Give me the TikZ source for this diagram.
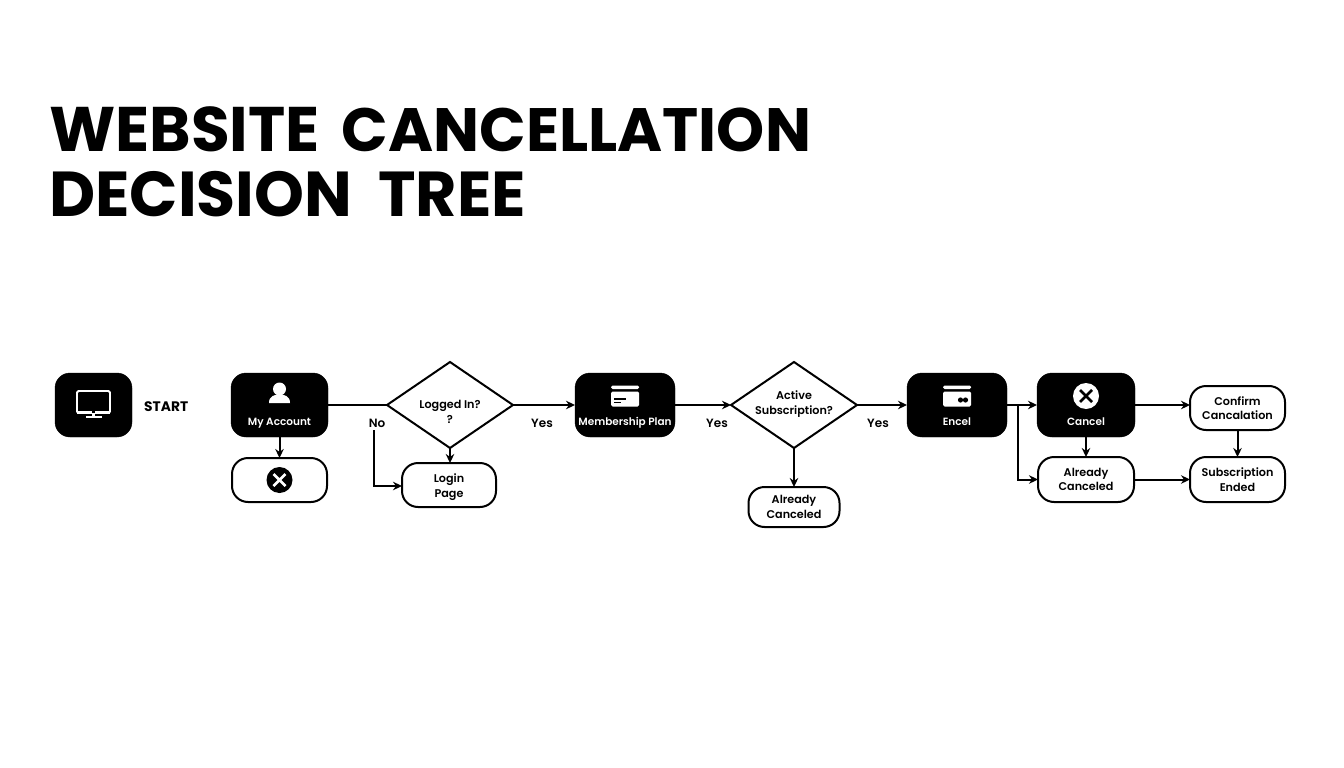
\documentclass[tikz,border=0pt]{standalone}
\usepackage{fontspec}
\setmainfont{Poppins}[UprightFont=* SemiBold,BoldFont=* Bold]
\usetikzlibrary{positioning,calc,shapes.geometric,arrows.meta}
\tikzset{
  flow/.style={-{Stealth[length=9pt,width=8.5pt]}, draw, black, line width=2pt},
  plainflow/.style={draw, black, line width=2pt},
  darkbox/.style={rectangle,rounded corners=15pt,fill=black,draw=black,outer sep=0pt,minimum height=64pt},
  whitebox/.style={rectangle,rounded corners=16pt,fill=white,draw=black,line width=2pt,outer sep=0pt,minimum height=44pt,text depth=0pt},
  decision/.style={diamond,draw=black,line width=2pt,fill=white,outer sep=0pt,inner sep=0pt,minimum width=126pt,minimum height=86pt},
  boxtext/.style={font=\fontsize{11.2}{14.5}\selectfont,align=center,text=black,inner sep=0pt},
  edgetext/.style={font=\fontsize{12}{14}\selectfont,text=black,inner sep=0pt},
  darktext/.style={font=\fontsize{10.5}{13}\selectfont,text=white,inner sep=0pt,text height=8pt,text depth=2.5pt},
  monitor icon/.pic={
    \draw[white,line width=1.8pt,rounded corners=1.5pt] (-16.5,11) rectangle (16.5,-11);
    \fill[white] (-16.5,-8.5) rectangle (16.5,-11.5);
    \fill[black] (-1.2,-10.6) rectangle (1.2,-9);
    \fill[white] (-1.5,-11.5) rectangle (1.5,-14);
    \fill[white] (-8,-14) rectangle (8,-16);
  },
  person icon/.pic={
    \fill[white] (0,7) circle (6.5);
    \fill[white] (-10.5,-7) -- (10.5,-7) .. controls (10.5,0) and (5,1.5) .. (0,1.5) .. controls (-5,1.5) and (-10.5,0) .. (-10.5,-7) -- cycle;
  },
  card icon/.pic={
    \fill[white,rounded corners=1.5pt] (-14,10.5) rectangle (14,7);
    \fill[white,rounded corners=1.5pt] (-14,4.5) rectangle (14,-10.5);
  },
  cross icon/.pic={
    \fill[#1] (0,0) circle (13);
  },
}
\begin{document}
\begin{tikzpicture}[x=1pt,y=1pt]
  \useasboundingbox[fill=white] (0,0) rectangle (1344,-768);

  \node[anchor=north west,align=left,inner sep=0pt,font=\fontsize{63}{65}\selectfont\bfseries] (title) at (49,-106.5) {\spaceskip=22pt WEBSITE {\fontsize{61.2}{65}\selectfont CANCELLATION}\\\fontsize{63.5}{65}\selectfont\spaceskip=26pt DECISION TREE};

  % top row
  \node[darkbox,minimum width=77pt] (startbox) at (93.5,-405) {};
  \node[anchor=west,inner sep=0pt,font=\fontsize{13.8}{16}\selectfont\bfseries] (starttext) at (144,-407) {START};
  \node[darkbox,minimum width=97pt,right=99pt of startbox] (account) {};
  \node[decision,right=59pt of account] (logged) {};
  \node[darkbox,minimum width=100pt,right=62pt of logged] (plan) {};
  \node[decision,right=56pt of plan] (active) {};
  \node[darkbox,minimum width=100pt,right=50pt of active] (encel) {};
  \node[darkbox,minimum width=98pt,right=30pt of encel] (cancel) {};

  % lower boxes
  \node[whitebox,minimum width=95pt,below=21pt of account] (crossbox) {};
  \node[whitebox,minimum width=94pt,below=15pt of logged,xshift=-1pt] (login) {};
  \node[whitebox,minimum width=91pt,minimum height=40pt,below=39pt of active] (canceled) {};
  \node[whitebox,minimum width=96pt,minimum height=45pt,below=20pt of cancel] (canceledb) {};
  \node[whitebox,minimum width=95pt,minimum height=45pt,right=56pt of canceledb] (ended) {};
  \node[whitebox,minimum width=95pt,above=27pt of ended] (confirm) {};

  % texts
  \node[darktext] (accounttext) at ([yshift=-17.5pt]account.center) {My Account};
  \node[darktext] (plantext) at ([yshift=-17.5pt]plan.center) {Membership Plan};
  \node[darktext] (enceltext) at ([yshift=-17.5pt]encel.center) {Encel};
  \node[darktext] (canceltext) at ([yshift=-17.5pt]cancel.center) {Cancel};
  \node[boxtext] (loggedtext) at ([yshift=-7pt]logged.center) {Logged In?\\?};
  \node[boxtext] (activetext) at ([yshift=1pt]active.center) {Active\\Subscription?};
  \node[boxtext] (logintext) at ([yshift=-2pt]login.center) {Login\\Page};
  \node[boxtext] (canceledtext) at (canceled.center) {Already\\Canceled};
  \node[boxtext] (canceledbtext) at (canceledb.center) {Already\\Canceled};
  \node[boxtext] (confirmtext) at (confirm.center) {Confirm\\Cancalation};
  \node[boxtext] (endedtext) at (ended.center) {Subscription\\Ended};

  \node[edgetext] (no) at (377,-423) {No};
  \node[edgetext] (yesa) at (542,-423) {Yes};
  \node[edgetext] (yesb) at (717,-423) {Yes};
  \node[edgetext] (yesc) at (878,-423) {Yes};

  % icons
  \pic at ([yshift=3pt]startbox.center) {monitor icon};
  \pic at ([yshift=9pt]account.center) {person icon};
  \pic at ([yshift=9pt]plan.center) {card icon};
  \pic at ([yshift=9pt]encel.center) {card icon};
  \fill[black] (plan.center) ++(-11,7) rectangle ++(12,-1.6);
  \fill[black] (plan.center) ++(-11,3.5) rectangle ++(7,-1.6);
  \fill[black] (encel.center) ++(3.5,5) circle (2.6) ++(5,0) circle (2.6);
  \pic at ([yshift=9pt]cancel.center) {cross icon=white};
  \draw[line width=2.5pt,black] ([shift={(-6,3)}]cancel.center) -- ([shift={(6,15)}]cancel.center) ([shift={(-6,15)}]cancel.center) -- ([shift={(6,3)}]cancel.center);
  \pic at (crossbox.center) {cross icon=black};
  \draw[line width=2.5pt,white] ([shift={(-6,-6)}]crossbox.center) -- ([shift={(6,6)}]crossbox.center) ([shift={(-6,6)}]crossbox.center) -- ([shift={(6,-6)}]crossbox.center);

  % connectors
  \draw[plainflow] (account) -- (logged);
  \draw[flow] (account) -- (crossbox);
  \draw[flow] (logged) -- (plan);
  \draw[flow] (logged.south) -- (login.north -| logged.south);
  \draw[flow] (no.south) ++(-3,-3) coordinate (nofoot) |- ([yshift=-1pt]login.west);
  \draw[flow] (plan) -- (active);
  \draw[flow] (active) -- (encel);
  \draw[flow] (active) -- (canceled);
  \draw[flow] (encel) -- (cancel);
  \coordinate (branch) at ($(encel.east)+(11,0)$);
  \draw[flow] (branch) |- (canceledb.west);
  \draw[flow] (cancel) -- (cancel.east -| confirm.west);
  \draw[flow] (cancel) -- (canceledb);
  \draw[flow] (confirm) -- (ended);
  \draw[flow] (canceledb) -- (ended);
\end{tikzpicture}
\end{document}
